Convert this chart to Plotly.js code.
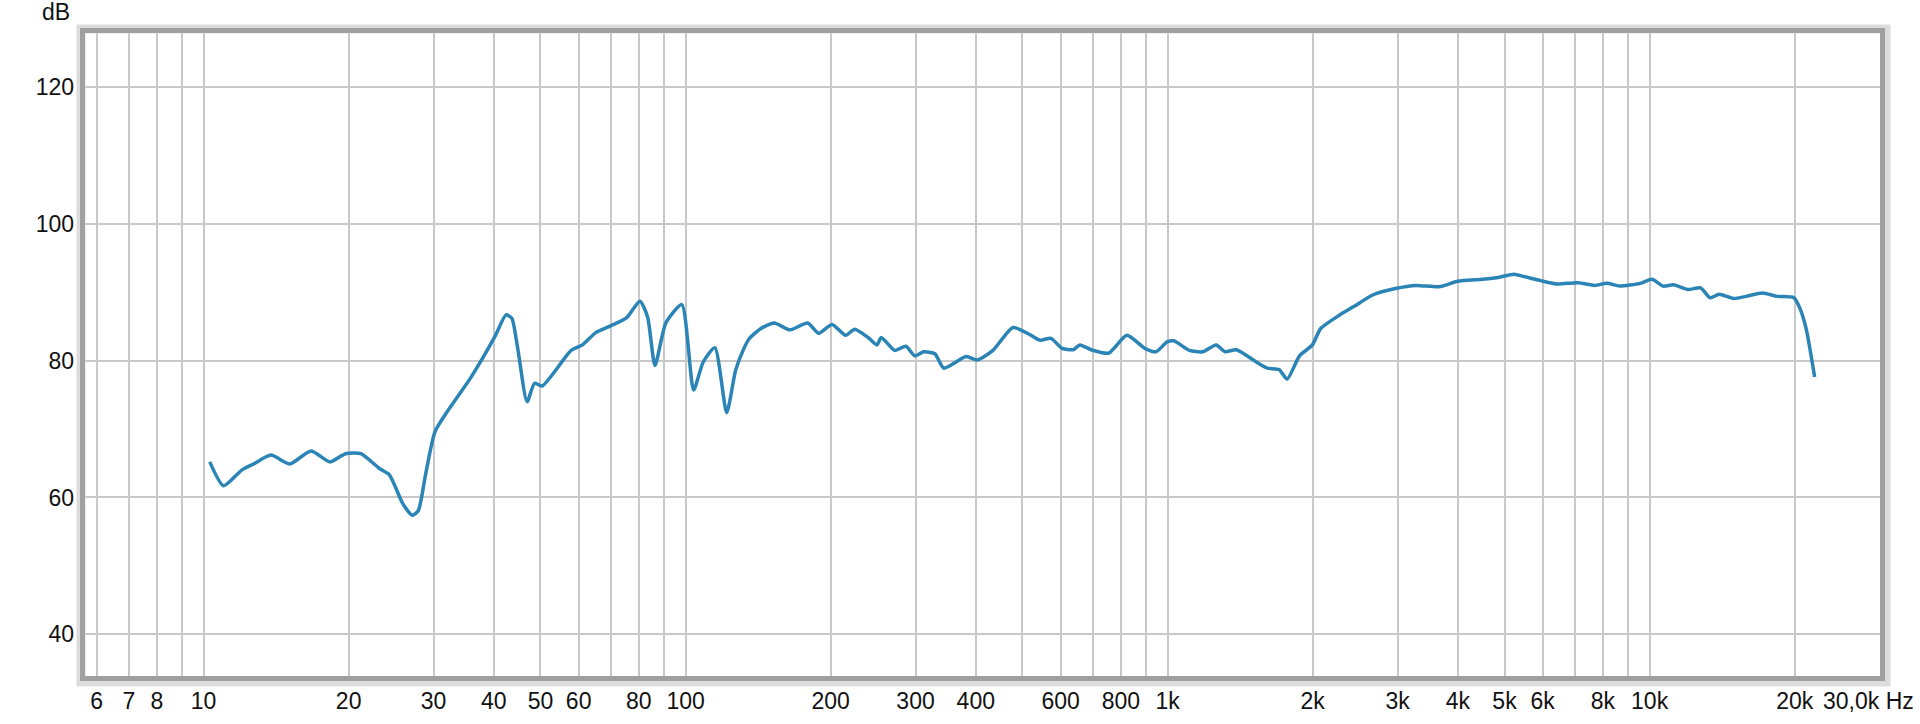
<!DOCTYPE html>
<html>
<head>
<meta charset="utf-8">
<script src="https://cdn.plot.ly/plotly-3.0.1.min.js"></script>
<style>html,body{margin:0;padding:0;background:#fff;}#chart{width:1920px;height:724px;}</style>
</head>
<body>
<div id="chart"></div>
<script>
// Frequency response (Hz, dB)
const freqHz = [10.3,11.0,12.0,12.7,13.8,15.1,16.7,18.3,19.7,21.2,23.2,24.3,25.9,27.1,27.9,28.9,30.2,32.2,35.9,40.2,42.4,43.6,44.8,46.9,48.6,50.4,57.9,61.1,65.1,69.5,75.5,80.4,83.4,86.4,91.0,98.2,103.9,108.8,115,121.7,127,131.6,135.5,143.3,152.8,164.5,179.2,189,201.3,214.7,224.3,239,249.4,254.7,271.5,286.5,299,312,329,343.4,382,403,434.2,477.7,515,543,573,604,637,658,694,755,823,897,946,998,1030,1110,1183,1261,1316,1389,1528,1611,1703,1770,1878,1997,2078,2272,2434,2663,2969,3280,3658,3999,4505,4879,5229,5490,5945,6433,7102,7687,8161,8663,9566,10114,10670,11210,12015,12754,13350,13940,14940,15850,17160,18400,19920,20520,21150,22000];
const levelDb = [65.2,61.7,64.0,64.9,66.2,64.9,66.8,65.2,66.4,66.4,64.2,63.3,59.1,57.4,58.1,63.5,69.6,72.8,77.6,83.5,86.7,86.2,82.0,74.0,76.7,76.3,81.5,82.3,84.1,85.0,86.3,88.7,86.4,79.3,85.5,88.2,75.7,79.8,81.9,72.4,78.6,81.5,83.2,84.7,85.5,84.5,85.5,84.0,85.3,83.7,84.6,83.4,82.3,83.4,81.5,82.1,80.7,81.3,81.0,78.9,80.6,80.1,81.5,84.85,83.9,83.0,83.25,81.8,81.6,82.3,81.6,81.1,83.7,81.8,81.3,82.75,82.9,81.5,81.3,82.3,81.3,81.6,79.8,78.9,78.7,77.3,80.7,82.3,84.7,86.65,87.9,89.6,90.55,91.0,90.8,91.6,91.9,92.2,92.65,92.3,91.7,91.2,91.4,91.0,91.3,90.9,91.3,91.9,90.9,91.1,90.4,90.65,89.2,89.7,89.1,89.4,89.9,89.4,89.2,87.6,84.5,77.6];

// Axis ticks
const xTickVals = [6,7,8,9,10,20,30,40,50,60,70,80,90,100,200,300,400,500,600,700,800,900,1000,2000,3000,4000,5000,6000,7000,8000,9000,10000,20000];
const xTickText = ['6','7','8','','10','20','30','40','50','60','','80','','100','200','300','400','','600','','800','','1k','2k','3k','4k','5k','6k','','8k','','10k','20k'];
const yTickVals = [40,60,80,100,120];
const yTickText = ['40','60','80','100','120'];
const lastXLabel = '30,0k Hz';
const yUnit = 'dB';

const W = 1795, H = 643;
const px = v => v / W, py = v => v / H;

const trace = {
  x: freqHz, y: levelDb, type: 'scatter', mode: 'lines',
  line: {color: '#2a84b6', width: 3.5, shape: 'spline', smoothing: 0.6},
  hoverinfo: 'x+y'
};

const layout = {
  width: 1920, height: 724,
  margin: {l: 85, r: 40, t: 33, b: 48},
  paper_bgcolor: '#ffffff', plot_bgcolor: '#ffffff',
  showlegend: false,
  font: {family: 'Liberation Sans, Arial, sans-serif', size: 23, color: '#111111'},
  xaxis: {
    type: 'log', range: [0.754, 4.478],
    tickmode: 'array', tickvals: xTickVals, ticktext: xTickText,
    showgrid: true, gridcolor: '#c8c8c8', gridwidth: 2,
    zeroline: false, showline: false, ticks: '', ticklabelstandoff: 9,
    tickfont: {size: 23}
  },
  yaxis: {
    range: [33.9, 127.9],
    tickmode: 'array', tickvals: yTickVals, ticktext: yTickText,
    showgrid: true, gridcolor: '#c8c8c8', gridwidth: 2,
    zeroline: false, showline: false, ticks: '', ticklabelstandoff: 10,
    tickfont: {size: 23}
  },
  shapes: [
    {type: 'rect', xref: 'paper', yref: 'paper', x0: px(-4), x1: 1 + px(6), y0: py(-6), y1: 1 + py(4),
     line: {color: '#dcdcdc', width: 9}, fillcolor: 'rgba(0,0,0,0)'},
    {type: 'rect', xref: 'paper', yref: 'paper', x0: px(-2.5), x1: 1 + px(2.5), y0: py(-2.5), y1: 1 + py(2.5),
     line: {color: '#a0a0a0', width: 5}, fillcolor: 'rgba(0,0,0,0)'}
  ],
  annotations: [
    {text: yUnit, xref: 'paper', yref: 'paper', x: px(-13), y: 1 + py(21), xanchor: 'right', yanchor: 'middle',
     showarrow: false, font: {size: 23}},
    {text: lastXLabel, xref: 'paper', yref: 'paper', x: px(1916 - 85), y: -py(25), xanchor: 'right', yanchor: 'middle',
     showarrow: false, font: {size: 23}}
  ]
};

Plotly.newPlot('chart', [trace], layout, {displayModeBar: false, staticPlot: true});
</script>
</body>
</html>
